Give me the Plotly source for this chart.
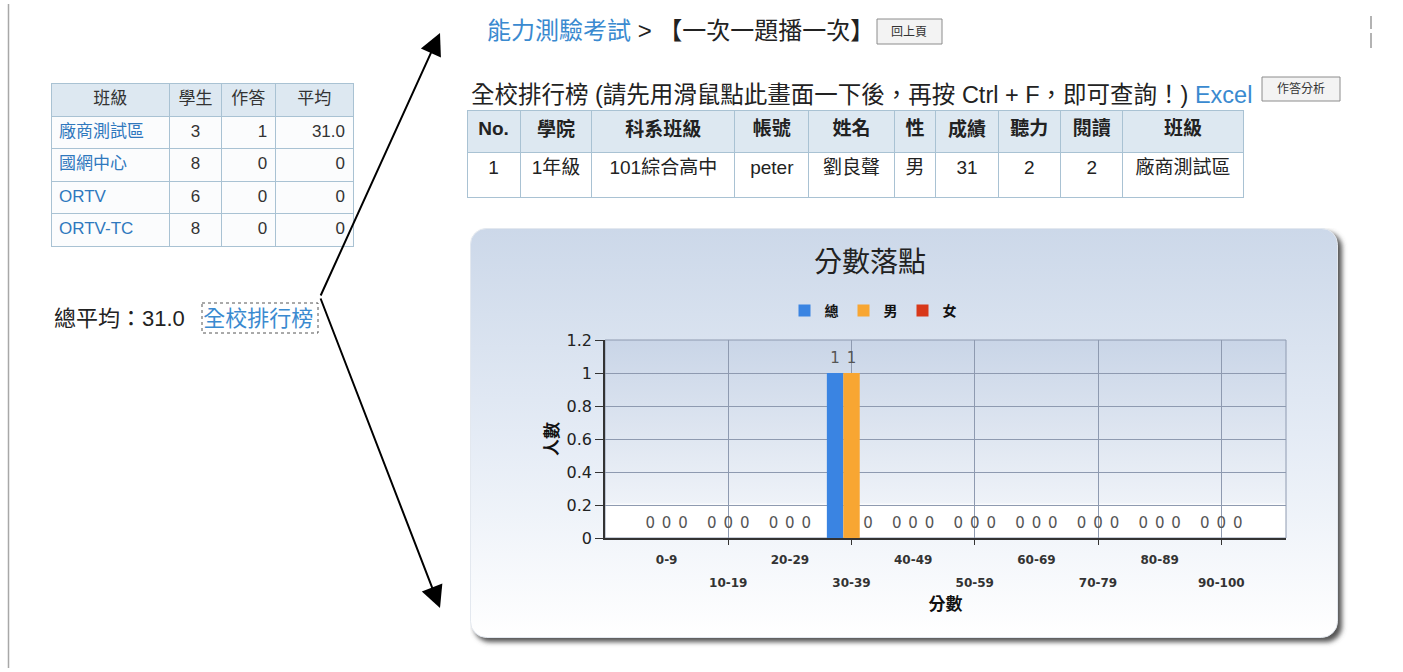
import base64
import plotly.graph_objects as go

W, H = 1403, 672

# ---------------- data ----------------
class_headers = ['班級', '學生', '作答', '平均']
class_names = ['廠商測試區', '國網中心', 'ORTV', 'ORTV-TC']
class_students = [3, 8, 6, 8]
class_answered = [1, 0, 0, 0]
class_average = ['31.0', '0', '0', '0']
overall_average = '31.0'

rank_headers = ['No.', '學院', '科系班級', '帳號', '姓名', '性', '成績', '聽力', '閱讀', '班級']
rank_no = [1]
rank_college = ['1年級']
rank_dept = ['101綜合高中']
rank_account = ['peter']
rank_name = ['劉良聲']
rank_gender = ['男']
rank_score = [31]
rank_listening = [2]
rank_reading = [2]
rank_class = ['廠商測試區']

score_bins = ['0-9', '10-19', '20-29', '30-39', '40-49', '50-59', '60-69', '70-79', '80-89', '90-100']
series_names = ['總', '男', '女']
total_counts = [0, 0, 0, 1, 0, 0, 0, 0, 0, 0]
male_counts = [0, 0, 0, 1, 0, 0, 0, 0, 0, 0]
female_counts = [0, 0, 0, 0, 0, 0, 0, 0, 0, 0]
series_values = [total_counts, male_counts, female_counts]
series_colors = ['#3a84e2', '#f8a632', '#d8381a']
y_ticks = [0, 0.2, 0.4, 0.6, 0.8, 1, 1.2]
y_ticktext = ['0', '0.2', '0.4', '0.6', '0.8', '1', '1.2']

# ---------------- helpers ----------------
def X(p):
    return p / W

def Y(p):
    return 1 - p / H

CJK = 'Liberation Sans, Noto Sans CJK TC, sans-serif'
LINK = '#2f78bd'
TXT = '#222222'
BORDER = '#a9c2d3'
HEAD_BG = '#dde8f1'

x_idx = list(range(len(score_bins)))
odd_idx = x_idx[1::2]
even_idx = x_idx[0::2]

fig = go.Figure()

# ---------------- left class table ----------------
fig.add_trace(go.Table(
    domain=dict(x=[X(51), X(354)], y=[Y(300), Y(83)]),
    columnwidth=[119, 52, 54, 78],
    header=dict(values=class_headers, fill_color=HEAD_BG, line_color=BORDER,
                align='center', height=33,
                font=dict(family=CJK, size=17, color='#333333')),
    cells=dict(values=[class_names, class_students, class_answered, class_average],
               fill_color='#fbfcfd', line_color=BORDER, height=32.5,
               align=['left', 'center', 'right', 'right'],
               font=dict(family=CJK, size=17, color=[LINK, '#333333', '#333333', '#333333'])),
))

# ---------------- ranking table ----------------
fig.add_trace(go.Table(
    domain=dict(x=[X(467), X(1243)], y=[Y(230), Y(110)]),
    columnwidth=[46, 62, 124, 64, 74, 36, 54, 54, 54, 104],
    header=dict(values=['<b>%s</b>' % h for h in rank_headers], fill_color=HEAD_BG,
                line_color=BORDER, align='center', height=42,
                font=dict(family=CJK, size=19, color='#222222')),
    cells=dict(values=[rank_no, rank_college, rank_dept, rank_account, rank_name, rank_gender,
                       rank_score, rank_listening, rank_reading, rank_class],
               fill_color='#ffffff', line_color=BORDER, height=45, align='center',
               font=dict(family=CJK, size=19, color='#222222')),
))

# ---------------- chart bars ----------------
for name, vals, col in zip(series_names, series_values, series_colors):
    fig.add_trace(go.Bar(x=x_idx, y=vals, name=name, marker=dict(color=col, line=dict(width=0)),
                         xaxis='x', yaxis='y', hoverinfo='x+y'))
for name, vals in zip(series_names, series_values):
    fig.add_trace(go.Scatter(x=x_idx, y=vals, mode='markers+text', text=[str(v) for v in vals],
                             textposition='top center', marker=dict(size=8, color='rgba(0,0,0,0)'),
                             textfont=dict(family='DejaVu Sans', size=15, color='#555555'),
                             showlegend=False, hoverinfo='skip', cliponaxis=False,
                             xaxis='x', yaxis='y'))

# ---------------- background images (card + plot gradient) ----------------
card_x0, card_y0, card_x1, card_y1 = 470, 228, 1338, 638
cw, ch = card_x1 - card_x0, card_y1 - card_y0
card_svg = f"""<svg xmlns='http://www.w3.org/2000/svg' width='{cw+10}' height='{ch+10}' viewBox='0 0 {cw+10} {ch+10}'>
<defs><linearGradient id='g' x1='0' y1='0' x2='0' y2='1'>
<stop offset='0' stop-color='#ccd8e9'/><stop offset='0.5' stop-color='#e4ebf5'/><stop offset='1' stop-color='#ffffff'/>
</linearGradient>
<filter id='b' x='-5%' y='-5%' width='110%' height='110%'><feGaussianBlur stdDeviation='2.5'/></filter></defs>
<rect x='4' y='4' width='{cw}' height='{ch}' rx='16' fill='#555555' filter='url(#b)'/>
<rect x='0.5' y='0.5' width='{cw-1}' height='{ch-1}' rx='16' fill='url(#g)' stroke='#e3e8ef'/>
</svg>"""
pa_x0, pa_x1, pa_y0, pa_y1 = 605, 1286, 340, 538
plot_svg = """<svg xmlns='http://www.w3.org/2000/svg' width='100' height='100' viewBox='0 0 100 100' preserveAspectRatio='none'>
<defs><linearGradient id='p' x1='0' y1='0' x2='0' y2='1'>
<stop offset='0' stop-color='#c9d5e7'/><stop offset='0.82' stop-color='#eef2f8'/>
<stop offset='0.835' stop-color='#ffffff'/><stop offset='1' stop-color='#ffffff'/>
</linearGradient></defs><rect x='0' y='0' width='100' height='100' fill='url(#p)'/></svg>"""

def uri(s):
    return 'data:image/svg+xml;base64,' + base64.b64encode(s.encode('utf-8')).decode('ascii')

images = [
    dict(source=uri(card_svg), xref='paper', yref='paper', x=X(card_x0), y=Y(card_y0),
         sizex=(cw + 10) / W, sizey=(ch + 10) / H, xanchor='left', yanchor='top',
         sizing='stretch', layer='below'),
    dict(source=uri(plot_svg), xref='paper', yref='paper', x=X(pa_x0), y=Y(pa_y0),
         sizex=(pa_x1 - pa_x0) / W, sizey=(pa_y1 - pa_y0) / H, xanchor='left', yanchor='top',
         sizing='stretch', layer='below'),
]

# ---------------- annotations ----------------
ann = []
ann.append(dict(text="<span style='color:#3a8ad0'>能力測驗考試</span> > 【一次一題播一次】",
                x=X(485), y=Y(31), xref='paper', yref='paper', xanchor='left', yanchor='middle',
                showarrow=False, font=dict(family=CJK, size=24, color=TXT)))
ann.append(dict(text='回上頁', x=X(909.5), y=Y(31.5), xref='paper', yref='paper', showarrow=False,
                xanchor='center', yanchor='middle',
                font=dict(family=CJK, size=12, color='#333333')))
ann.append(dict(text="全校排行榜 (請先用滑鼠點此畫面一下後，再按 Ctrl + F，即可查詢！) <span style='color:#3a8ad0'>Excel</span>",
                x=X(469), y=Y(95), xref='paper', yref='paper', xanchor='left', yanchor='middle',
                showarrow=False, font=dict(family=CJK, size=23.5, color=TXT)))
ann.append(dict(text='作答分析', x=X(1301), y=Y(89), xref='paper', yref='paper', showarrow=False,
                xanchor='center', yanchor='middle',
                font=dict(family=CJK, size=12, color='#333333')))
ann.append(dict(text="總平均：%s&nbsp;&nbsp;&nbsp;<span style='color:#3a8ad0'>全校排行榜</span>" % overall_average,
                x=X(52), y=Y(318), xref='paper', yref='paper', xanchor='left', yanchor='middle',
                showarrow=False, font=dict(family=CJK, size=22, color=TXT)))
# arrows
for tip_x, tip_y in [(440, 33), (440, 608)]:
    ann.append(dict(text='', x=X(tip_x), y=Y(tip_y), xref='paper', yref='paper',
                    ax=320 - tip_x, ay=297 - tip_y, axref='pixel', ayref='pixel',
                    showarrow=True, arrowhead=2, arrowsize=2.2, arrowwidth=2, arrowcolor='#000000',
                    standoff=0, startstandoff=0))

# ---------------- shapes ----------------
shapes = [
    dict(type='line', xref='paper', yref='paper', x0=X(8.5), x1=X(8.5), y0=Y(4), y1=Y(668),
         line=dict(color='#a8a8a8', width=1.5)),
    dict(type='line', xref='paper', yref='paper', x0=X(1371), x1=X(1371), y0=Y(16), y1=Y(29),
         line=dict(color='#9a9a9a', width=1.5)),
    dict(type='line', xref='paper', yref='paper', x0=X(1371), x1=X(1371), y0=Y(33), y1=Y(48),
         line=dict(color='#9a9a9a', width=1.5)),
    # buttons
    dict(type='rect', xref='paper', yref='paper', x0=X(877), x1=X(942), y0=Y(19), y1=Y(44),
         fillcolor='#f3f3f3', line=dict(color='#8c8c8c', width=1), layer='below'),
    dict(type='rect', xref='paper', yref='paper', x0=X(1262), x1=X(1340), y0=Y(77), y1=Y(101),
         fillcolor='#f3f3f3', line=dict(color='#8c8c8c', width=1), layer='below'),
    # dotted focus box around link
    dict(type='rect', xref='paper', yref='paper', x0=X(202), x1=X(318), y0=Y(303), y1=Y(333),
         line=dict(color='#555555', width=1, dash='dot')),
    # plot frame (top/right)
    dict(type='rect', xref='x domain', yref='y domain', x0=0, x1=1, y0=0, y1=1,
         line=dict(color='#8e9ab0', width=1), layer='below'),
]

fig.update_layout(
    width=W, height=H, autosize=False,
    margin=dict(l=0, r=0, t=0, b=0, pad=0, autoexpand=False),
    paper_bgcolor='#ffffff', plot_bgcolor='rgba(0,0,0,0)',
    barmode='group', bargap=0.2, bargroupgap=0,
    scattermode='group', scattergap=0.2,
    images=images, annotations=ann, shapes=shapes,
    title=dict(text='分數落點', x=X(870), y=Y(262), xref='paper', yref='paper',
               xanchor='center', yanchor='middle', automargin=False,
               font=dict(family='Noto Sans CJK TC', size=28, color='#222222')),
    legend=dict(orientation='h', x=X(873), y=Y(311), xanchor='center', yanchor='middle',
                bgcolor='rgba(0,0,0,0)', font=dict(family='Noto Sans CJK TC', size=14,
                                                   color='#111111', weight='bold'),
                itemwidth=30, traceorder='normal'),
    xaxis=dict(domain=[X(pa_x0), X(pa_x1)], range=[-1.0, 10.05], tickmode='array',
               tickvals=odd_idx, ticktext=[score_bins[i] for i in odd_idx], automargin=False,
               ticklabelstandoff=28, showgrid=True, gridcolor='#8e9ab0', gridwidth=1,
               ticks='outside', ticklen=5, tickcolor='#333333', showline=True,
               linecolor='#333333', linewidth=1.5, zeroline=False, fixedrange=True,
               tickfont=dict(family='DejaVu Sans', size=12, color='#333333', weight='bold'),
               title=dict(text='分數', standoff=6,
                          font=dict(family='Noto Sans CJK TC', size=17, color='#111111', weight='bold'))),
    xaxis2=dict(domain=[X(pa_x0), X(pa_x1)], range=[-1.0, 10.05], overlaying='x', anchor='y',
                side='bottom', tickmode='array', tickvals=even_idx, automargin=False,
                ticktext=[score_bins[i] for i in even_idx], ticklabelstandoff=13,
                showgrid=False, showline=False, ticks='', zeroline=False, fixedrange=True,
                tickfont=dict(family='DejaVu Sans', size=12, color='#333333', weight='bold')),
    yaxis=dict(domain=[Y(pa_y1), Y(pa_y0)], range=[0, 1.2], tickmode='array', automargin=False,
               tickvals=y_ticks, ticktext=y_ticktext, showgrid=True, gridcolor='#8e9ab0',
               gridwidth=1, ticks='outside', ticklen=8, tickcolor='#333333', showline=True,
               linecolor='#333333', linewidth=1.5, zeroline=False, fixedrange=True,
               tickfont=dict(family='DejaVu Sans', size=16, color='#222222'),
               title=dict(text='人數', standoff=4,
                          font=dict(family='Noto Sans CJK TC', size=17, color='#111111', weight='bold'))),
)

# make the secondary (even-label) axis render
fig.add_trace(go.Scatter(x=[x_idx[0]], y=[None], xaxis='x2', yaxis='y', showlegend=False,
                         hoverinfo='skip', mode='markers'))

fig.write_html("out.html", config={'displayModeBar': False},
               post_script="document.body.style.margin='0';document.body.style.overflow='hidden';")
